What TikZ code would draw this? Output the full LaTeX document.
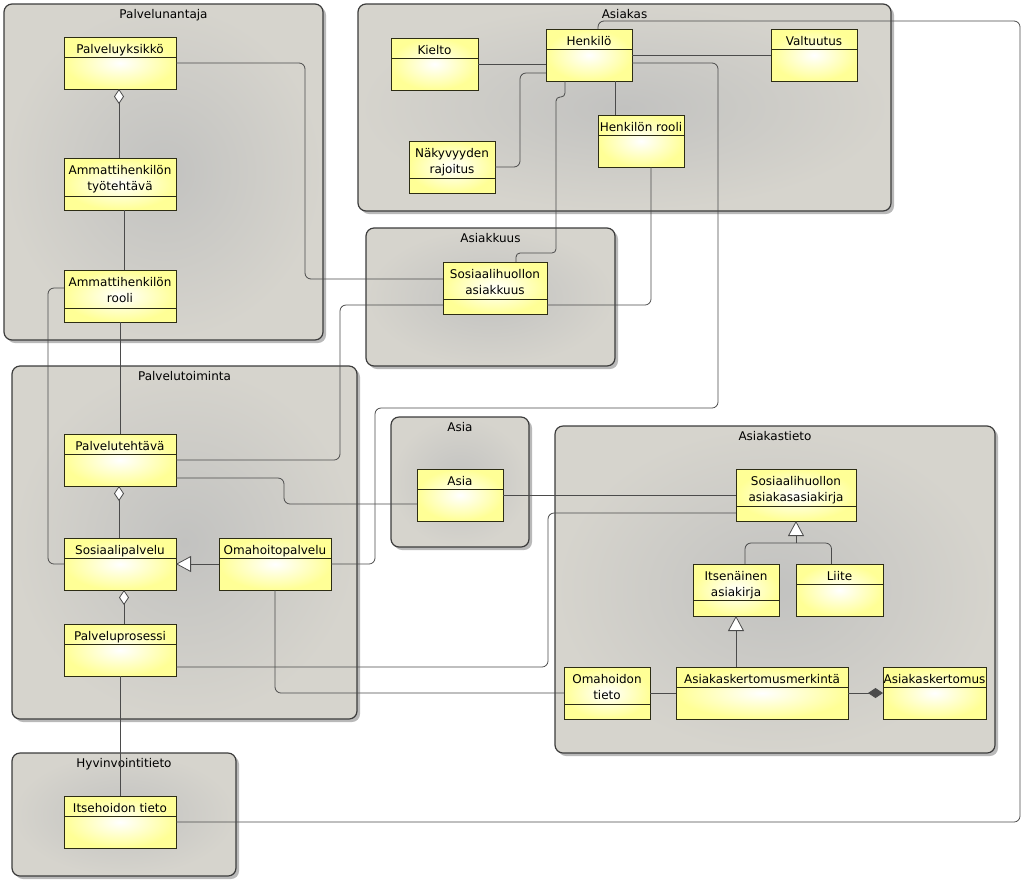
\documentclass[tikz,border=0pt]{standalone}
\usepackage{fontspec}
\setmainfont{DejaVu Sans}
\usepackage{xcolor}
\usepackage{tikz}
\usetikzlibrary{arrows.meta,calc,shadows}
\definecolor{pkgfill}{RGB}{214,212,205}
\definecolor{pkgcore}{RGB}{194,194,192}
\definecolor{pkgedge}{RGB}{60,60,60}
\definecolor{classfill}{RGB}{255,255,150}
\definecolor{classedge}{RGB}{45,45,20}
\definecolor{wiregray}{RGB}{75,75,75}

\begin{document}
\begin{tikzpicture}[x=1pt, y=-1pt,
    every node/.style={font=\fontsize{12}{16}\selectfont},
    package/.style={draw=pkgedge, line width=1.2pt, rounded corners=8pt,
      inner color=pkgcore, outer color=pkgfill,
      drop shadow={shadow xshift=3pt, shadow yshift=-3pt, fill=black!50, opacity=0.55}},
    umlclass/.style={draw=classedge, line width=0.9pt, inner color=white, outer color=classfill,
      minimum height=52pt, inner sep=0pt, outer sep=0pt},
    classname/.style={inner sep=0pt, anchor=base},
    classline/.style={draw=classedge, line width=0.9pt},
    wire/.style={draw=wiregray, line width=0.8pt, rounded corners=6pt},
    aggr/.style={draw=wiregray, line width=0.8pt, {Diamond[fill=white, length=15pt, width=10pt]}-},
    comp/.style={draw=wiregray, line width=0.8pt, -{Diamond[length=15pt, width=10pt]}},
    gen/.style={draw=wiregray, line width=0.8pt, -{Triangle[fill=white, length=15pt, width=16pt]}}]
    \useasboundingbox (0,0) rectangle (1024,887);

    % Packages with their titles
    \foreach \xa/\ya/\xb/\yb/\title in {
      4/4/323/340/Palvelunantaja, 358/4/891/211/Asiakas, 366/228/615/366/Asiakkuus,
      12/366/357/719/Palvelutoiminta, 391/417/529/547/Asia, 555/426/995/753/Asiakastieto,
      12/753/236/876/Hyvinvointitieto
    } {
      \draw[package] (\xa,\ya) rectangle (\xb,\yb);
      \node[anchor=base] (pkg-\title) at ({(\xa+\xb)/2},{\ya+14}) {\title};
    }

    % Classes: name / centre x / top y / width / divider / text
    \foreach \id/\cx/\ty/\w/\d/\txt in {
      pyksikko/120/37/112/20/Palveluyksikkö,
      tyotehtava/120/158/112/38/{Ammattihenkilön\\työtehtävä},
      ahrooli/120/270/112/38/{Ammattihenkilön\\rooli},
      kielto/434.5/38/87/20/Kielto,
      henkilo/589/29/86/20/Henkilö,
      valtuutus/814/29/86/20/Valtuutus,
      nakyvyys/452/141/86/37/{Näkyvyyden\\rajoitus},
      hrooli/641/115/86/20/Henkilön rooli,
      asiakkuus/495/262/104/37/{Sosiaalihuollon\\asiakkuus},
      ptehtava/120/434/112/20/Palvelutehtävä,
      spalvelu/120/538/112/20/Sosiaalipalvelu,
      omahoito/275/538/112/20/Omahoitopalvelu,
      pprosessi/120/624/112/20/Palveluprosessi,
      asia/460/469/86/20/Asia,
      asiakirja/796/469/120/37/{Sosiaalihuollon\\asiakasasiakirja},
      itsenainen/736/564/86/36/{Itsenäinen\\asiakirja},
      liite/839.5/564/87/20/Liite,
      ohtieto/607/667/86/37/{Omahoidon\\tieto},
      merkinta/762/667/172/20/Asiakaskertomusmerkintä,
      kertomus/934.5/667/103/20/Asiakaskertomus,
      itsehoito/120/796/112/20/Itsehoidon tieto
    } {
      \node[umlclass, minimum width=\w pt, anchor=north] (\id) at (\cx,\ty) {};
      \node[classname] (\id-name) at ([yshift=-16pt]\id.north) {\parbox[t]{\w pt}{\centering\txt}};
      \draw[classline] ([yshift=-\d pt]\id.north west) -- ([yshift=-\d pt]\id.north east);
    }

    % Palvelunantaja
    \draw[aggr] ([xshift=-1pt]pyksikko.south) -- ([xshift=-1pt]tyotehtava.north);
    \draw[wire] ([xshift=4pt]tyotehtava.south) -- ([xshift=4pt]ahrooli.north);
    \draw[wire] (pyksikko.east) -| (305,279) -- ([yshift=9pt]asiakkuus.west);
    \draw[wire] ([yshift=8pt]ahrooli.west) -| (48,564) -- (spalvelu.west);
    \draw[wire] (ahrooli.south) -- (ptehtava.north);

    % Asiakas
    \draw[wire] (kielto.east) -- (kielto.east -| henkilo.west);
    \draw[wire] (nakyvyys.east) -| (520,73) -- ([yshift=-18pt]henkilo.west);
    \draw[wire] (henkilo.east) -- (valtuutus.west);
    \draw[wire] ([xshift=26pt]henkilo.south) -- ([xshift=-26pt]hrooli.north);
    \draw[wire, rounded corners=4pt] ([xshift=-24pt]henkilo.south) -- (565,97) -- (556,97)
      -- (556,253) -- (516,253) -- ([xshift=21pt]asiakkuus.north);
    \draw[wire] ([yshift=-8pt]henkilo.east) -| (718,408) -| (375,564) -- (omahoito.east);
    \draw[wire] ([xshift=9pt]henkilo.north) |- (1020,21) |- (itsehoito.east);
    \draw[wire] ([xshift=10pt]hrooli.south) |- ([yshift=-17pt]asiakkuus.east);

    % Asiakkuus and Palvelutoiminta
    \draw[wire] ([yshift=-17pt]asiakkuus.west) -| (340,460) -- (ptehtava.east);
    \draw[wire] ([yshift=-18pt]ptehtava.east) -| (284,504) -- ([yshift=-9pt]asia.west);
    \draw[wire] (asia.east) -- (asiakirja.west);
    \draw[wire] ([yshift=-17pt]pprosessi.east) -| (548,513) -- ([yshift=-18pt]asiakirja.west);
    \draw[gen] (omahoito.west) -- (spalvelu.east);
    \draw[aggr] ([xshift=-1pt]ptehtava.south) -- ([xshift=-1pt]spalvelu.north);
    \draw[aggr] ([xshift=4pt]spalvelu.south) -- ([xshift=4pt]pprosessi.north);
    \draw[wire] (pprosessi.south) -- (itsehoito.north);
    \draw[wire] (omahoito.south) |- (ohtieto.west);

    % Asiakastieto
    \draw[wire] (ohtieto.east) -- (merkinta.west);
    \draw[gen] (merkinta.north -| itsenainen.south) -- (itsenainen.south);
    \coordinate (genjoin) at (796,543);
    \draw[wire] ([xshift=9pt]itsenainen.north) |- (genjoin) -| ([xshift=-8pt]liite.north);
    \draw[gen] (genjoin) -- (asiakirja.south);
    \draw[comp] (merkinta.east) -- (kertomus.west);
\end{tikzpicture}
\end{document}
